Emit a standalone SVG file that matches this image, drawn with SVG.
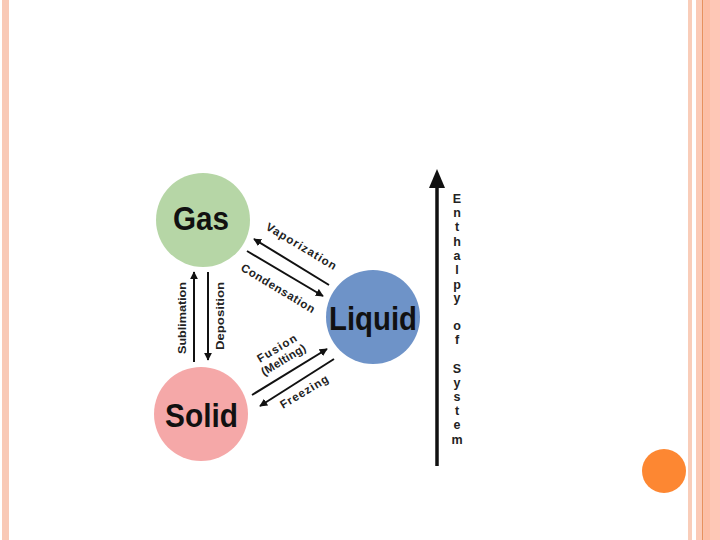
<svg xmlns="http://www.w3.org/2000/svg" width="720" height="540" viewBox="0 0 720 540">
<style>
.big{font-family:"Liberation Sans",Arial,sans-serif;font-weight:bold;font-size:34px;fill:#111}
.lbl{font-family:"Liberation Sans",Arial,sans-serif;font-weight:bold;font-size:11.5px;fill:#222}
.ax{font-family:"Liberation Sans",Arial,sans-serif;font-weight:bold;font-size:12.5px;fill:#222;text-anchor:middle}
.arr{stroke:#111;stroke-width:2;fill:none;marker-end:url(#ah)}
</style>
<defs>
<marker id="ah" viewBox="0 0 10 10" refX="9" refY="5" markerWidth="4" markerHeight="4" orient="auto" markerUnits="strokeWidth">
<path d="M0,0 L10,5 L0,10 z" fill="#111"/>
</marker>
</defs>
<rect width="720" height="540" fill="#fff"/>
<g id="border">
<rect x="2" y="0" width="7" height="540" fill="#f9c9b6"/>
<rect x="688" y="0" width="4" height="540" fill="#f9cdb9"/>
<rect x="696" y="0" width="6" height="540" fill="#fbcab6"/>
<rect x="702" y="0" width="1.5" height="540" fill="#e8915e"/>
<rect x="703.5" y="0" width="6.5" height="540" fill="#fdbea5"/>
<rect x="710" y="0" width="10" height="540" fill="#fec7b6"/>
<circle cx="664" cy="471" r="22" fill="#fd8732"/>
</g>
<g id="gas">
<circle cx="203" cy="220" r="47" fill="#b6d6a6"/>
<text class="big" x="173" y="230" textLength="56" lengthAdjust="spacingAndGlyphs">Gas</text>
</g>
<g id="liquid">
<circle cx="373" cy="317" r="47" fill="#6e93c8"/>
<text class="big" x="329" y="330" textLength="88" lengthAdjust="spacingAndGlyphs">Liquid</text>
</g>
<g id="solid">
<circle cx="201" cy="414" r="47" fill="#f5a8a8"/>
<text class="big" x="165" y="427" textLength="73" lengthAdjust="spacingAndGlyphs">Solid</text>
</g>
<g id="connectors">
<line class="arr" x1="194" y1="362" x2="194" y2="272"/>
<line class="arr" x1="208" y1="272" x2="208" y2="360"/>
<line class="arr" x1="329" y1="285" x2="254" y2="239"/>
<line class="arr" x1="247" y1="251" x2="323" y2="296"/>
<line class="arr" x1="252" y1="395" x2="327" y2="349"/>
<line class="arr" x1="334" y1="359" x2="260" y2="406"/>
<line x1="437" y1="466" x2="437" y2="185" stroke="#111" stroke-width="3.5"/>
<path d="M429,188 L437,169 L445,188 z" fill="#111"/>
</g>
<g id="labels">
<text class="lbl" transform="translate(186,354) rotate(-90)" textLength="72" lengthAdjust="spacingAndGlyphs">Sublimation</text>
<text class="lbl" transform="translate(224,350) rotate(-90)" textLength="68" lengthAdjust="spacingAndGlyphs">Deposition</text>
<text class="lbl" transform="translate(265,229) rotate(31)" textLength="80" lengthAdjust="spacing">Vaporization</text>
<text class="lbl" transform="translate(240,270) rotate(31)" textLength="84" lengthAdjust="spacing">Condensation</text>
<text class="lbl" transform="translate(260,363) rotate(-31)" textLength="44" lengthAdjust="spacing">Fusion</text>
<text class="lbl" transform="translate(264,376) rotate(-31)" textLength="50" lengthAdjust="spacing">(Melting)</text>
<text class="lbl" transform="translate(283,409) rotate(-31)" textLength="54" lengthAdjust="spacing">Freezing</text>
</g>
<g id="enthalpy">
<text class="ax" x="457" y="203">E</text>
<text class="ax" x="457" y="217">n</text>
<text class="ax" x="457" y="231">t</text>
<text class="ax" x="457" y="246">h</text>
<text class="ax" x="457" y="260">a</text>
<text class="ax" x="457" y="274">l</text>
<text class="ax" x="457" y="289">p</text>
<text class="ax" x="457" y="302">y</text>
<text class="ax" x="457" y="330">o</text>
<text class="ax" x="457" y="344">f</text>
<text class="ax" x="457" y="373">S</text>
<text class="ax" x="457" y="387">y</text>
<text class="ax" x="457" y="401">s</text>
<text class="ax" x="457" y="415">t</text>
<text class="ax" x="457" y="429">e</text>
<text class="ax" x="457" y="444">m</text>
</g>
</svg>
